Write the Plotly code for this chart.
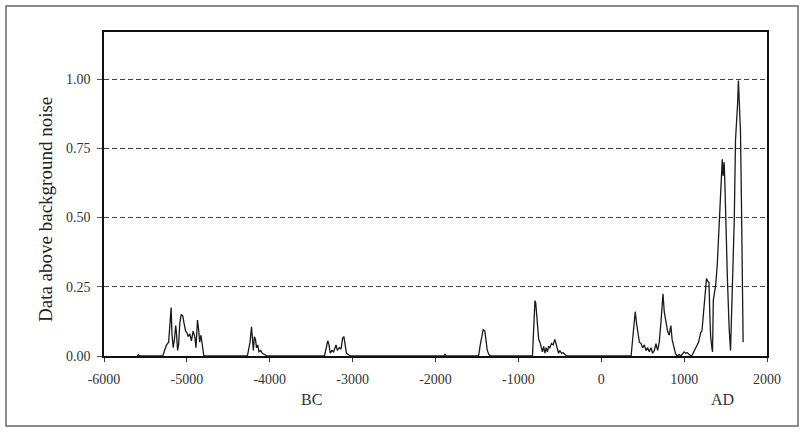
import plotly.graph_objects as go

# ---- data ----
years = [
    -5600, -5585, -5570,
    -5290, -5270, -5245, -5220, -5205, -5190, -5180, -5165, -5150, -5135, -5125, -5112, -5100,
    -5085, -5068, -5050, -5035, -5015, -5000, -4985, -4965, -4945, -4925, -4905, -4890, -4872,
    -4860, -4845, -4830, -4815, -4805, -4795,
    -4270, -4255, -4238, -4220, -4210, -4198, -4185, -4172, -4160, -4145, -4130, -4110, -4090,
    -4060, -4030,
    -3340, -3320, -3300, -3285, -3270, -3250, -3230, -3200, -3185, -3160, -3140, -3120, -3105,
    -3090, -3075, -3050, -3030,
    -1900, -1885, -1870,
    -1480, -1460, -1440, -1425, -1405, -1390, -1375, -1355, -1335,
    -830, -815, -800, -790, -775, -755, -740, -725, -710, -695, -680, -665, -650, -635, -620,
    -600, -580, -560, -545, -530, -515, -500, -480, -460, -440, -420,
    360, 380, 395, 410, 425, 440, 460, 480, 500, 520, 540, 560, 580, 600, 620, 640, 660, 680,
    700, 720, 745, 760, 780, 800, 820, 840, 855, 875, 895, 915, 940, 960, 980, 1000, 1020,
    1040, 1060, 1085,
    1100, 1130, 1150, 1175, 1200, 1215, 1235, 1250, 1270, 1285, 1300, 1310, 1320, 1335, 1343,
    1352, 1365, 1382, 1400, 1412, 1430, 1443, 1452, 1460, 1470, 1483, 1492, 1500, 1510, 1520,
    1532, 1543, 1560, 1570, 1582, 1595, 1605, 1620, 1635, 1645, 1655, 1668, 1680, 1692, 1704,
    1712,
]
values = [
    0, 0.005, 0,
    0, 0.02, 0.04, 0.05, 0.11, 0.175, 0.08, 0.03, 0.06, 0.11, 0.08, 0.02, 0.04,
    0.12, 0.15, 0.145, 0.12, 0.09, 0.085, 0.07, 0.08, 0.055, 0.09, 0.07, 0.03, 0.13,
    0.10, 0.05, 0.075, 0.04, 0.01, 0,
    0, 0.03, 0.05, 0.105, 0.04, 0.02, 0.07, 0.06, 0.03, 0.04, 0.015, 0.02, 0.01,
    0.005, 0,
    0, 0.03, 0.055, 0.04, 0.01, 0.02, 0.015, 0.04, 0.02, 0.03, 0.025, 0.065, 0.07,
    0.04, 0.01, 0.005, 0,
    0, 0.006, 0,
    0, 0.04, 0.075, 0.095, 0.09, 0.06, 0.02, 0.005, 0,
    0, 0.1, 0.2, 0.19, 0.12, 0.06, 0.05, 0.03, 0.015, 0.035, 0.01, 0.03, 0.015, 0.035, 0.03,
    0.045, 0.04, 0.06, 0.045, 0.03, 0.01, 0.02, 0.01, 0.012, 0.005, 0,
    0, 0.06, 0.13, 0.16, 0.12, 0.08, 0.05, 0.045, 0.03, 0.04, 0.02, 0.03, 0.015, 0.03, 0.01,
    0.02, 0.045, 0.02, 0.05, 0.12, 0.225, 0.16, 0.12, 0.09, 0.075, 0.11, 0.06, 0.03, 0.01, 0,
    0.005, 0, 0.01, 0.015, 0.01, 0.012, 0.005, 0,
    0.005, 0.02, 0.035, 0.05, 0.085, 0.09, 0.15, 0.21, 0.28, 0.27, 0.265, 0.15, 0.07, 0.03,
    0.015, 0.2, 0.22, 0.26, 0.33, 0.4, 0.53, 0.575, 0.65, 0.71, 0.65, 0.70, 0.62, 0.56, 0.42,
    0.30, 0.18, 0.10, 0.02, 0.12, 0.25, 0.33, 0.49, 0.78, 0.85, 0.91, 0.995, 0.92, 0.81, 0.55,
    0.16, 0.05,
]

x_ticks = [-6000, -5000, -4000, -3000, -2000, -1000, 0, 1000, 2000]
x_tick_labels = ["-6000", "-5000", "-4000", "-3000", "-2000", "-1000", "0", "1000", "2000"]
y_ticks = [0, 0.25, 0.5, 0.75, 1.0]
y_tick_labels = ["0.00", "0.25", "0.50", "0.75", "1.00"]
y_title = "Data above background noise"
era_labels = ["BC", "AD"]

FONT = "Liberation Serif"

fig = go.Figure()
fig.add_trace(go.Scatter(
    x=years, y=values, mode="lines",
    line=dict(color="#1a1a1a", width=1.3),
    showlegend=False, hoverinfo="skip",
))

fig.update_layout(
    width=805, height=433,
    margin=dict(l=104, r=38, t=32, b=77),
    paper_bgcolor="white", plot_bgcolor="white",
    font=dict(family=FONT, size=14, color="#333"),
    showlegend=False,
)

fig.update_xaxes(
    range=[-6000, 2000], tickvals=x_ticks, ticktext=x_tick_labels,
    showgrid=False, zeroline=False,
    showline=True, mirror=True, linecolor="#111", linewidth=1.5,
    ticks="outside", ticklen=4, tickcolor="#333", tickwidth=1,
    tickfont=dict(family=FONT, size=14, color="#333"),
    ticklabelstandoff=5,
)
fig.update_yaxes(
    range=[0, 1.17], tickvals=y_ticks, ticktext=y_tick_labels,
    showgrid=True, gridcolor="#444", griddash="5px,3px", gridwidth=1,
    zeroline=False,
    showline=True, mirror=True, linecolor="#111", linewidth=1.5,
    ticks="outside", ticklen=5, tickcolor="#555", tickwidth=1,
    tickfont=dict(family=FONT, size=14, color="#333"),
    ticklabelstandoff=4,
)

# outer frame (6..798 x, 6..426 y in pixels)
fig.add_shape(type="rect", xref="paper", yref="paper",
              x0=-0.1478, x1=1.0468, y0=-0.216, y1=1.0802,
              line=dict(color="#666", width=1.5), fillcolor="rgba(0,0,0,0)", layer="below")

fig.add_annotation(text=era_labels[0], xref="paper", yref="paper", x=0.3137, y=-0.1358,
                   xanchor="center", yanchor="middle",
                   showarrow=False, font=dict(family=FONT, size=16, color="#333"))
fig.add_annotation(text=era_labels[1], xref="paper", yref="paper", x=0.9336, y=-0.1358,
                   xanchor="center", yanchor="middle",
                   showarrow=False, font=dict(family=FONT, size=16, color="#333"))
fig.add_annotation(text=y_title, xref="paper", yref="paper", x=-0.089, y=0.4537,
                   xanchor="center", yanchor="middle",
                   textangle=-90, showarrow=False,
                   font=dict(family=FONT, size=19, color="#222"))

fig.write_html("out.html", config={"displayModeBar": False},
               post_script="document.body.style.margin='0';")
